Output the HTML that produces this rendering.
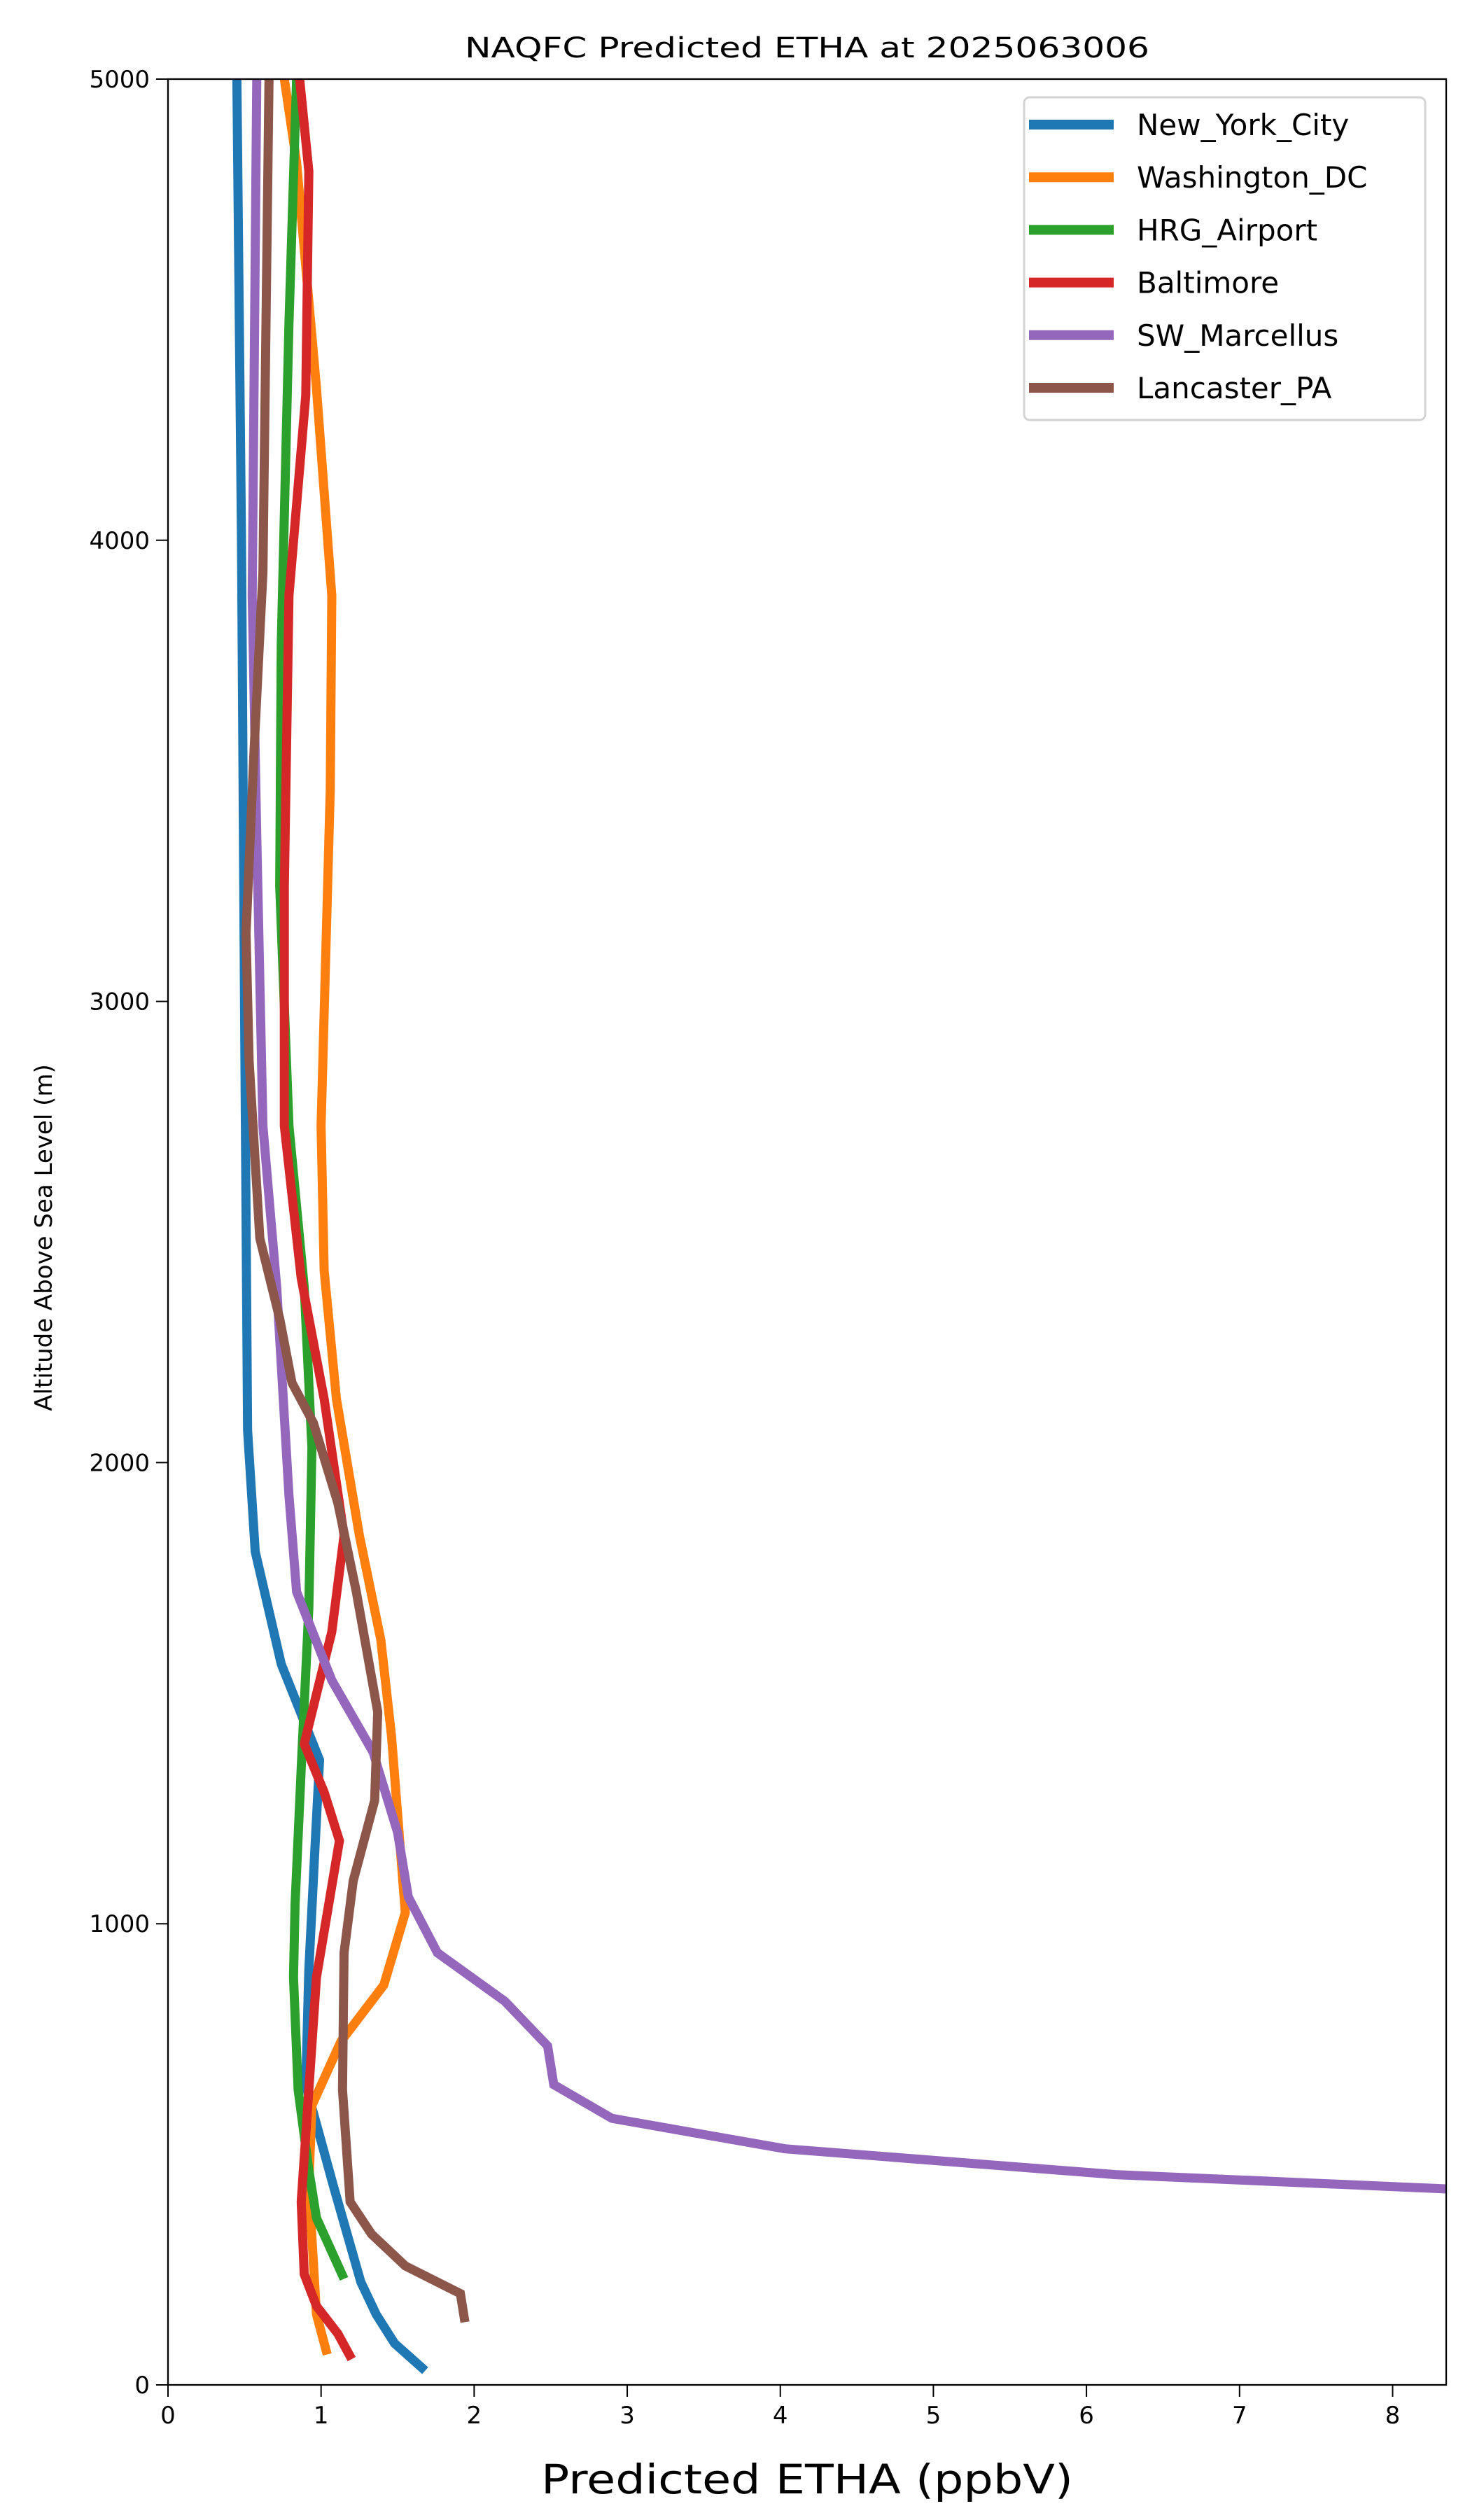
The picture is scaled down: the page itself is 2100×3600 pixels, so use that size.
<!DOCTYPE html>
<html><head><meta charset="utf-8"><style>
html,body{margin:0;padding:0;background:#fff;}
svg{display:block;font-family:"DejaVu Sans","Liberation Sans",sans-serif;}
</style></head><body>
<svg id="chart" width="2100" height="3600" viewBox="0 0 2100 3600" xmlns="http://www.w3.org/2000/svg">
<rect x="0" y="0" width="2100" height="3600" fill="#fff"/>
<defs><clipPath id="plotclip"><rect x="240" y="113" width="1826" height="3294"/></clipPath></defs>
<text x="1153" y="82" font-size="40" text-anchor="middle" textLength="978" lengthAdjust="spacingAndGlyphs">NAQFC Predicted ETHA at 2025063006</text>
<g id="series" clip-path="url(#plotclip)"></g>
<rect x="240" y="113" width="1826" height="3294" fill="none" stroke="#000" stroke-width="2.3"/>
<g id="xticks"></g>
<g id="yticks"></g>
<text x="1153" y="3562" font-size="58" text-anchor="middle" textLength="760" lengthAdjust="spacingAndGlyphs">Predicted ETHA (ppbV)</text>
<text transform="translate(74,1768) rotate(-90)" font-size="34" text-anchor="middle">Altitude Above Sea Level (m)</text>
<g id="legend"></g>
</svg>
<script>
const names = ["New_York_City","Washington_DC","HRG_Airport","Baltimore","SW_Marcellus","Lancaster_PA"];
const colors = ["#1f77b4","#ff7f0e","#2ca02c","#d62728","#9467bd","#8c564b"];
const nycX = [0.45,0.48,0.50,0.52,0.57,0.74,0.99,0.96,0.92,0.90,1.08,1.26,1.36,1.48,1.68];
const nycY = [5000,4000,3000,2070,1807,1563,1355,1163,900,650,432,223,153,90,31];
const dcX = [0.76,0.84,0.97,1.07,1.06,1.00,1.02,1.10,1.25,1.39,1.46,1.55,1.41,1.13,0.94,0.92,0.97,1.04];
const dcY = [5000,4820,4330,3880,3460,2730,2416,2138,1842,1616,1407,1024,867,745,606,432,153,66];
const hrgX = [0.84,0.79,0.74,0.73,0.79,0.89,0.94,0.92,0.87,0.83,0.82,0.85,0.92,0.97,1.15];
const hrgY = [5000,4470,3775,3250,2730,2380,2033,1685,1337,1041,884,640,466,362,230];
const balX = [0.86,0.92,0.90,0.79,0.76,0.76,0.87,1.02,1.15,1.07,0.89,1.02,1.12,0.97,0.92,0.87,0.89,0.97,1.11,1.20];
const balY = [5000,4800,4314,3880,3250,2730,2400,2138,1842,1633,1390,1285,1180,884,640,397,240,171,111,56];
const swmX = [0.58,0.55,0.58,0.62,0.71,0.79,0.84,1.07,1.34,1.50,1.57,1.76,2.20,2.48,2.52,2.90,4.03,6.19,8.35,9.5];
const swmY = [5000,3880,3357,2730,2380,1929,1720,1528,1372,1198,1058,937,832,735,651,578,512,456,425,390];
const lanX = [0.66,0.62,0.56,0.51,0.53,0.60,0.73,0.81,0.95,1.11,1.23,1.37,1.35,1.21,1.15,1.14,1.19,1.33,1.55,1.91,1.94];
const lanY = [5000,3930,3530,3148,2870,2486,2312,2173,2086,1912,1720,1459,1267,1093,937,640,397,327,258,198,136];
const xTicks = [0,1,2,3,4,5,6,7,8];
const yTicks = [0,1000,2000,3000,4000,5000];

const NS = "http://www.w3.org/2000/svg";
const X0=240, X1=2066, XMAX=8.35, Y0=3407, Y1=113, YMAX=5000;
function sx(v){return X0+(v/XMAX)*(X1-X0);}
function sy(v){return Y0-(v/YMAX)*(Y0-Y1);}
function mk(tag,attrs,parent){const e=document.createElementNS(NS,tag);for(const k in attrs)e.setAttribute(k,attrs[k]);parent.appendChild(e);return e;}

const seriesX=[nycX,dcX,hrgX,balX,swmX,lanX];
const seriesY=[nycY,dcY,hrgY,balY,swmY,lanY];
const sg=document.getElementById("series");
for(let i=0;i<names.length;i++){
  const pts=seriesX[i].map((v,j)=>sx(v).toFixed(1)+","+sy(seriesY[i][j]).toFixed(1)).join(" ");
  const pl=mk("polyline",{points:pts,fill:"none",stroke:colors[i],"stroke-width":13,"stroke-linejoin":"miter","stroke-miterlimit":"3"},sg);
  
  
}
const xg=document.getElementById("xticks");
xTicks.forEach(t=>{
  const l=mk("line",{x1:sx(t),x2:sx(t),y1:Y0,y2:Y0+17,stroke:"#000","stroke-width":2},xg);
  
  
  const tx=mk("text",{x:sx(t),y:Y0+55,"font-size":34,"text-anchor":"middle"},xg);
  tx.textContent=t;
  
  
});
const yg=document.getElementById("yticks");
yTicks.forEach(t=>{
  const l=mk("line",{x1:X0-17,x2:X0,y1:sy(t),y2:sy(t),stroke:"#000","stroke-width":2},yg);
  
  
  const tx=mk("text",{x:X0-26,y:sy(t)+12,"font-size":34,"text-anchor":"end"},yg);
  tx.textContent=t;
  
  
});
const lg=document.getElementById("legend");
const box=mk("rect",{x:1463,y:139,width:573,height:461,rx:8,fill:"#fff","fill-opacity":0.8,stroke:"#d3d3d3","stroke-width":3},lg);


names.forEach((n,i)=>{
  const cy=178+i*75.2;
  const s=mk("line",{x1:1470,x2:1591,y1:cy,y2:cy,stroke:colors[i],"stroke-width":14},lg);
  
  
  const t=mk("text",{x:1624,y:cy+15,"font-size":42},lg);
  t.textContent=n;
  
  
});
</script>
</body></html>
